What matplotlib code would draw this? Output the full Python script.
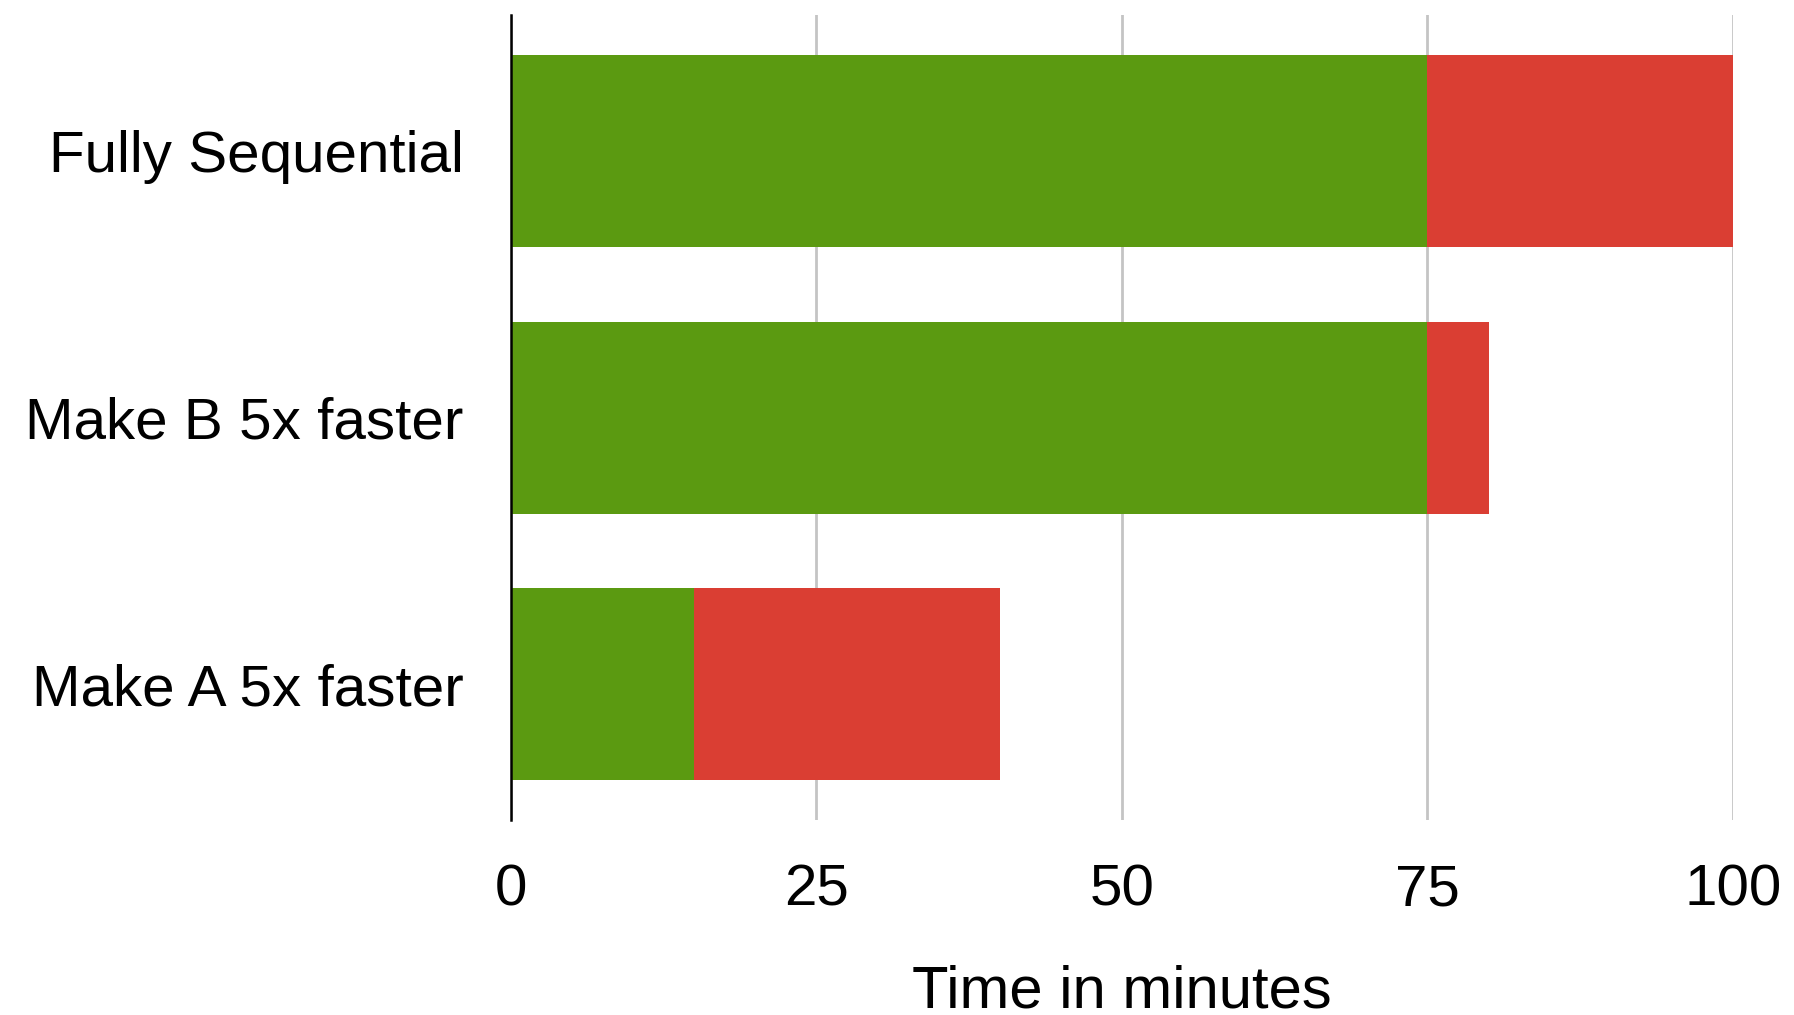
import matplotlib.pyplot as plt

# data, top to bottom as shown
scenarios = ['Fully Sequential', 'Make B 5x faster', 'Make A 5x faster']
part_a = [75, 75, 15]
part_b = [25, 5, 25]
xticks = [0, 25, 50, 75, 100]

GREEN = '#5b9a11'
RED = '#da3e33'

plt.rcParams['font.family'] = ['Liberation Sans', 'DejaVu Sans']

fig = plt.figure(figsize=(17.94, 10.15), dpi=100)
ax = fig.add_axes([0.2848, 0.192, 0.966 - 0.2848, 0.985 - 0.192])

ypos = list(range(len(scenarios)))[::-1]
ax.barh(ypos, part_a, height=0.72, color=GREEN, zorder=3)
ax.barh(ypos, part_b, left=part_a, height=0.72, color=RED, zorder=3)

ax.set_xlim(0, 100)
ax.set_ylim(-0.51, 2.51)
ax.set_xticks(xticks)
ax.set_yticks(ypos)
ax.set_yticklabels(scenarios)
ax.tick_params(axis='both', length=0, labelsize=42)
ax.tick_params(axis='x', pad=31)
ax.tick_params(axis='y', pad=34)

ax.grid(axis='x', color='#c4c4c4', linewidth=2, zorder=0)
for s in ['top', 'right', 'bottom']:
    ax.spines[s].set_visible(False)
ax.spines['left'].set_linewidth(1.8)
ax.spines['left'].set_zorder(4)

ax.set_xlabel('Time in minutes', fontsize=43, labelpad=34)

fig.savefig('out.png', dpi=100)
plt.close(fig)
